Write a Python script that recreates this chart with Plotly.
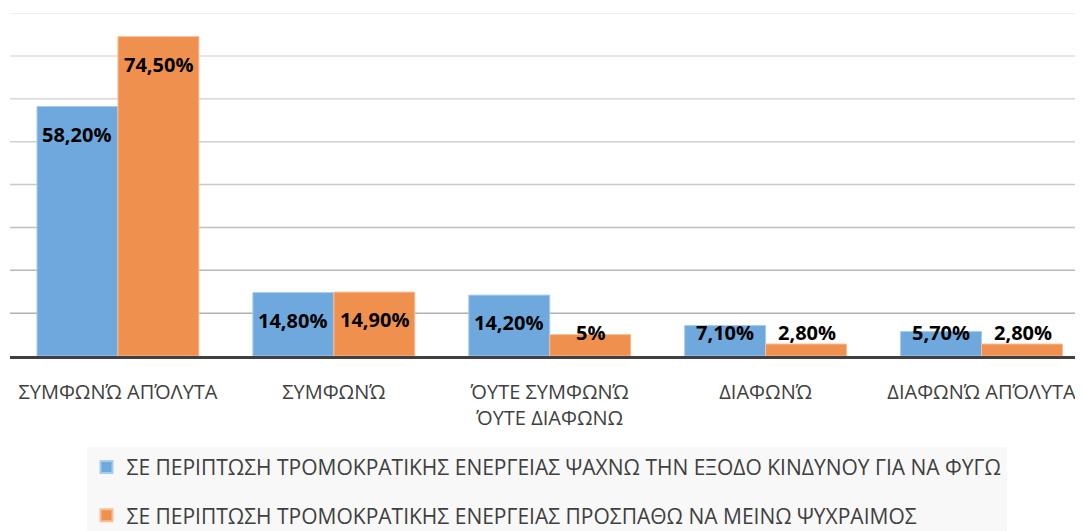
import plotly.graph_objects as go

# ── Data ─────────────────────────────────────────────────────────────────────
categories = [
    'ΣΥΜΦΩΝΏ ΑΠΌΛΥΤΑ',
    'ΣΥΜΦΩΝΏ',
    'ΌΥΤΕ ΣΥΜΦΩΝΏ<br>ΌΥΤΕ ΔΙΑΦΩΝΩ',
    'ΔΙΑΦΩΝΏ',
    'ΔΙΑΦΩΝΏ ΑΠΌΛΥΤΑ',
]
exit_values = [58.2, 14.8, 14.2, 7.1, 5.7]
calm_values = [74.5, 14.9, 5.0, 2.8, 2.8]
exit_labels = ['58,20%', '14,80%', '14,20%', '7,10%', '5,70%']
calm_labels = ['74,50%', '14,90%', '5%', '2,80%', '2,80%']
grid_levels = [10, 20, 30, 40, 50, 60, 70, 80]
series_names = [
    'ΣΕ ΠΕΡΙΠΤΩΣΗ ΤΡΟΜΟΚΡΑΤΙΚΗΣ ΕΝΕΡΓΕΙΑΣ ΨΑΧΝΩ ΤΗΝ ΕΞΟΔΟ ΚΙΝΔΥΝΟΥ ΓΙΑ ΝΑ ΦΥΓΩ',
    'ΣΕ ΠΕΡΙΠΤΩΣΗ ΤΡΟΜΟΚΡΑΤΙΚΗΣ ΕΝΕΡΓΕΙΑΣ ΠΡΟΣΠΑΘΩ ΝΑ ΜΕΙΝΩ ΨΥΧΡΑΙΜΟΣ',
]

# ── Style ────────────────────────────────────────────────────────────────────
BLUE = '#6fa8dc'
BLUE_EDGE = '#a9cbee'
ORANGE = '#f0904f'
ORANGE_EDGE = '#f7bf98'
FONT = 'Open Sans'
LABEL_DROP = 6.5     # label sits this far (in %) below the bar top
LABEL_FLOOR = 5.4    # lowest label position (in %)

fig = go.Figure()
fig.add_trace(go.Bar(
    x=categories, y=exit_values, name=series_names[0],
    marker=dict(color=BLUE, line=dict(color=BLUE_EDGE, width=1)),
    legendgroup='a',
))
fig.add_trace(go.Bar(
    x=categories, y=calm_values, name=series_names[1],
    marker=dict(color=ORANGE, line=dict(color=ORANGE_EDGE, width=1)),
    legendgroup='b',
))

# gridlines fade from mid grey near the base to pale grey at the top
top = max(grid_levels)
for lvl in grid_levels:
    shade = int(0xb0 + (0xe8 - 0xb0) * (lvl - 10) / (top - 10))
    fig.add_hline(y=lvl, line=dict(color=f'rgb({shade},{shade},{shade})', width=1.5),
                  layer='below')

# data labels, shifted to each bar of the group
for vals, labels, shift in [(exit_values, exit_labels, -41), (calm_values, calm_labels, 41)]:
    for cat, v, lab in zip(categories, vals, labels):
        fig.add_annotation(
            x=cat, y=max(v - LABEL_DROP, LABEL_FLOOR), text=f'<b>{lab}</b>',
            xshift=shift, showarrow=False, yanchor='middle',
            font=dict(family=FONT, size=20, color='#000000'),
        )

# page body has an 8px margin, so the figure is 8px smaller and margins trimmed
fig.update_layout(
    width=1075, height=523,
    paper_bgcolor='white', plot_bgcolor='white',
    margin=dict(l=2, r=0, t=5, b=175, autoexpand=False),
    barmode='group', bargap=0.25, bargroupgap=0.0,
    font=dict(family=FONT, color='#404040'),
    xaxis=dict(
        range=[-0.5, 4.47],
        showgrid=False, showline=True, linecolor='#404040', linewidth=3,
        ticks='', tickfont=dict(size=20, color='#404040'),
        ticklabelstandoff=16, automargin=False,
    ),
    yaxis=dict(
        range=[0, 80], dtick=10, showticklabels=False,
        showgrid=False, zeroline=False, automargin=False,
    ),
    legend=dict(
        orientation='v', x=0.5, xanchor='center', y=-0.265, yanchor='top',
        bgcolor='#f8f8f8', font=dict(size=21, color='#404040'),
        tracegroupgap=18, itemsizing='constant',
    ),
)

fig.write_html('out.html')
